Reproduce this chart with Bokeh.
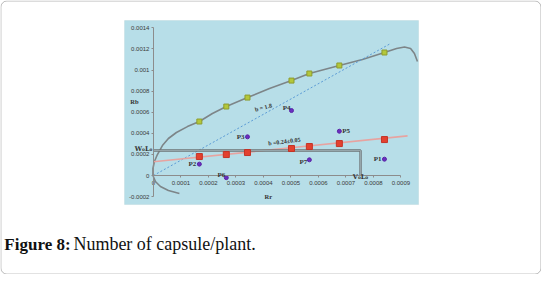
from bokeh.plotting import figure
from bokeh.models import Range1d, FixedTicker, Label, BoxAnnotation
from bokeh.embed import file_html
from bokeh.resources import INLINE

# ---------------- data ----------------
x_ticks = [0.0, 0.0001, 0.0002, 0.0003, 0.0004, 0.0005, 0.0006, 0.0007, 0.0008, 0.0009]
x_tick_labels = ["0", "0.0001", "0.0002", "0.0003", "0.0004", "0.0005", "0.0006", "0.0007", "0.0008", "0.0009"]
y_ticks = [-0.0002, 0.0, 0.0002, 0.0004, 0.0006, 0.0008, 0.001, 0.0012, 0.0014]
y_tick_labels = ["-0.0002", "0", "0.0002", "0.0004", "0.0006", "0.0008", "0.001", "0.0012", "0.0014"]

rr = [0.000167, 0.000265, 0.000342, 0.000502, 0.000567, 0.000676, 0.00084]
rb_upper = [0.000512, 0.000654, 0.000739, 0.0009, 0.000967, 0.001043, 0.001166]
rb_lower = [0.00018, 0.000199, 0.000218, 0.000256, 0.000275, 0.000303, 0.000341]

parent_names = ["P1", "P2", "P3", "P4", "P5", "P6", "P7"]
parent_rr = [0.00084, 0.000167, 0.000342, 0.000502, 0.000676, 0.000265, 0.000567]
parent_rb = [0.000155, 0.000108, 0.000367, 0.000616, 0.00042, -0.00002, 0.000149]

curve_x = [0.0000945, 0.0000545, 0.0000255, 0.0000073, -0.0000018, -0.0000018, 0.0000036,
           0.0000145, 0.0000327, 0.0000545, 0.0000836, 0.0001236, 0.000167, 0.0002145,
           0.000265, 0.000342, 0.000422, 0.000502, 0.000567, 0.000676, 0.00076, 0.00084,
           0.000884, 0.000913, 0.000935, 0.000949, 0.00096]
curve_y = [-0.000171, -0.000142, -0.000104, -0.000057, 0.0, 0.0000664, 0.000133,
           0.000199, 0.000284, 0.000351, 0.000408, 0.000464, 0.000512, 0.000588,
           0.000654, 0.000739, 0.000825, 0.0009, 0.000967, 0.001043, 0.0011, 0.001166,
           0.001204, 0.001218, 0.001204, 0.001156, 0.00108]

red_fit_x = [0.0, 0.000924]
red_fit_y = [0.00013, 0.000376]
blue_fit_x = [0.0, 0.000862]
blue_fit_y = [0.0, 0.001251]

w0l0 = 0.000237
v0l0 = 0.000753

# ---------------- figure ----------------
p = figure(width=541, height=274, output_backend="svg", toolbar_location=None,
           x_range=Range1d(-0.000556, 0.001411), y_range=Range1d(-0.000938, 0.001659),
           min_border=0)
p.background_fill_color = "white"
p.border_fill_color = "white"
p.outline_line_color = None
p.xgrid.visible = False
p.ygrid.visible = False

# chart panel (light blue)
p.add_layout(BoxAnnotation(left=-0.000105, right=0.000964, top=0.001469, bottom=-0.000275,
                           fill_color="#B7DEE8", fill_alpha=1.0, line_color="#a9c9d1",
                           line_width=1, level="underlay"))

for ax in (p.xaxis[0], p.yaxis[0]):
    ax.fixed_location = 0
    ax.axis_line_color = "#8c8c8c"
    ax.major_tick_line_color = "#8c8c8c"
    ax.major_tick_in = 0
    ax.major_tick_out = 2
    ax.minor_tick_line_color = None
    ax.major_label_text_font = "Liberation Sans"
    ax.major_label_text_font_size = "6px"
    ax.major_label_text_color = "#3a3a3a"
    ax.major_label_standoff = 2

p.xaxis[0].major_label_standoff = 3
p.xaxis[0].ticker = FixedTicker(ticks=x_ticks)
p.xaxis[0].major_label_overrides = {t: s for t, s in zip(x_ticks, x_tick_labels)}
p.xaxis[0].bounds = (x_ticks[0], x_ticks[-1])
p.yaxis[0].ticker = FixedTicker(ticks=y_ticks)
p.yaxis[0].major_label_overrides = {t: s for t, s in zip(y_ticks, y_tick_labels)}
p.yaxis[0].bounds = (y_ticks[0], y_ticks[-1])

# curve and fits
p.line(curve_x, curve_y, line_color="#7d8588", line_width=1.6)
p.line(blue_fit_x, blue_fit_y, line_color="#5b9bd5", line_width=1, line_dash="2 2")
p.line(red_fit_x, red_fit_y, line_color="#e7a3a0", line_width=1.6)

# W0L0 / V0L0 bracket
p.line([0, v0l0, v0l0], [w0l0, w0l0, 0], line_color="#6e7476", line_width=2.4)
p.line([0, v0l0, v0l0], [w0l0, w0l0, 0], line_color="#a9bfc4", line_width=0.7)

# markers
p.scatter(rr, rb_upper, marker="square", size=5, fill_color="#b3c73a", line_color="#8d9c30")
p.scatter(rr, rb_lower, marker="square", size=6, fill_color="#e3412f", line_color="#c43326")
p.scatter(parent_rr, parent_rb, marker="circle", size=4, fill_color="#6a2fc0", line_color="#5a26a6")

# parent labels
offs = {"P1": (-3, 0, "right"), "P2": (-3, 0, "right"), "P3": (-3, 0, "right"),
        "P4": (-1, 3, "right"), "P5": (3, 0, "left"), "P6": (-1, 3, "right"),
        "P7": (-2, -2, "right")}
for n, xv, yv in zip(parent_names, parent_rr, parent_rb):
    dx, dy, al = offs[n]
    p.add_layout(Label(x=xv, y=yv, text=n, x_offset=dx, y_offset=dy, text_align=al,
                       text_baseline="middle", text_font="Liberation Serif",
                       text_font_style="bold", text_font_size="7px", text_color="#333333"))

def lab(x, y, t, size="6.5px", align="center", angle=0.0, style="bold", font="Liberation Serif",
        color="#333333", baseline="middle"):
    p.add_layout(Label(x=x, y=y, text=t, text_align=align, text_baseline=baseline, angle=angle,
                       text_font=font, text_font_style=style, text_font_size=size, text_color=color))

lab(-0.000069, 0.0007, "Rb")
lab(0.000418, -0.000199, "Rr")
lab(-0.000004, w0l0 + 0.000018, "W\u2080L\u2080", align="right", size="6.5px", font="DejaVu Serif")
lab(v0l0, -0.0000095, "V\u2080L\u2080", size="6.5px", font="DejaVu Serif")
lab(0.0004, 0.000645, "b = 1.8", angle=0.26, size="6px")
lab(0.000476, 0.000322, "b =0.24\u00b10.05", angle=0.12, size="6px")

# caption
lab(-0.000542, -0.000651, "Figure 8:", size="17px", align="left", baseline="alphabetic", color="#111111")
lab(-0.000291, -0.000651, "Number of capsule/plant.", size="18px", align="left", style="normal",
    baseline="alphabetic", color="#111111")

# rounded frame of the figure box
p.add_layout(BoxAnnotation(left=-0.0005545, right=0.001409, top=0.001654, bottom=-0.000934,
                           fill_color=None, line_color="#222222", line_width=1, border_radius=6))

open("out.html", "w").write(file_html(p, INLINE))
